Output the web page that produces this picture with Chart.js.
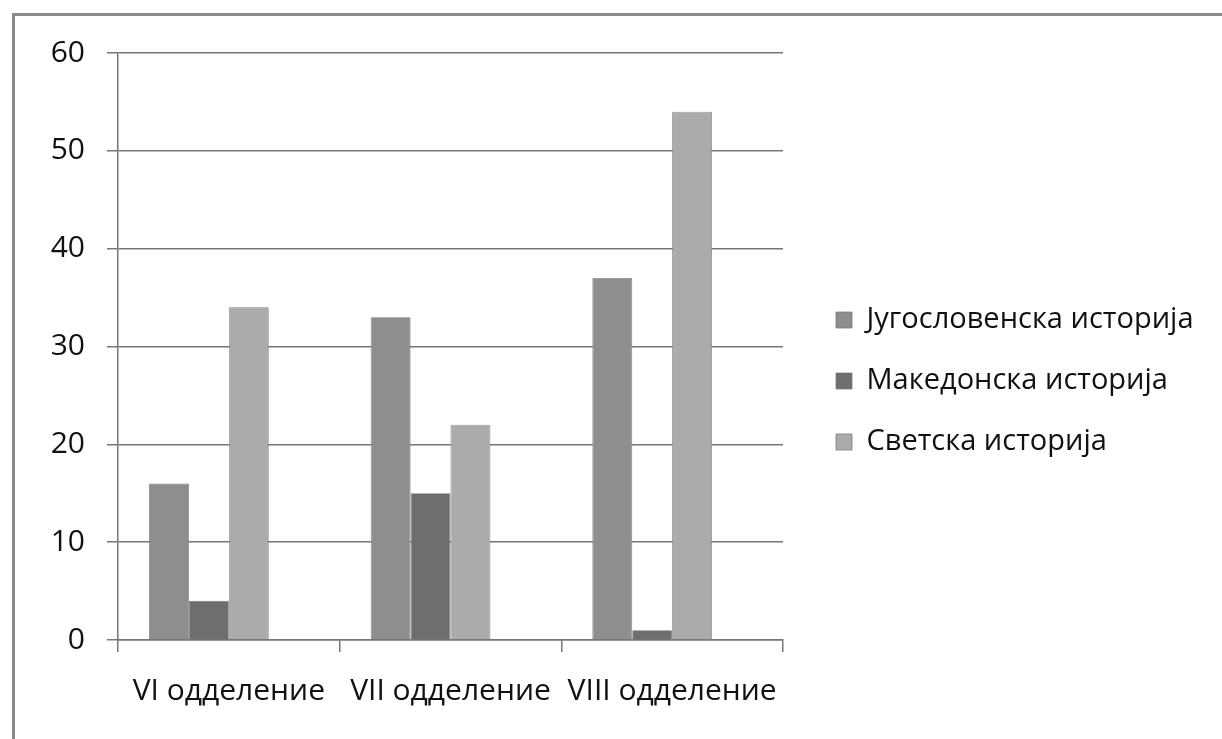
<!DOCTYPE html>
<html>
<head>
<meta charset="utf-8">
<script src="https://cdn.jsdelivr.net/npm/chart.js@4.4.1/dist/chart.umd.min.js"></script>
<style>
  html,body{margin:0;padding:0;background:#fff;width:1222px;height:739px;overflow:hidden;}
  .frame{position:absolute;left:12px;top:13px;width:1300px;height:800px;border-left:3px solid #8a8a8a;border-top:3px solid #8a8a8a;}
  #wrap{position:absolute;left:0;top:0;width:1222px;height:739px;}
</style>
</head>
<body>
<div class="frame"></div>
<div id="wrap"><canvas id="c"></canvas></div>
<script>
/* grades and series */
const CATEGORIES = ["VI одделение","VII одделение","VIII одделение"];
const SERIES_NAMES = ["Југословенска историја","Македонска историја","Светска историја"];
const YUGO = [16, 33, 37];
const MACED = [4, 15, 1];
const WORLD = [34, 22, 54];
const Y_TICKS = [0, 10, 20, 30, 40, 50, 60];

const FONT = "'Open Sans', sans-serif";
const FS = 30;       // axis labels
const FS_LEG = 29;   // legend
const INK = "#111";
const GRID = "#767676";
const COLORS = ["#8e8e8e", "#6e6e6e", "#ababab"];

// chart area target: x 118..783, y 53..640
const LEG_PAD = 32, LEG_BOX = 16, GAP = 21;
const m = document.createElement("canvas").getContext("2d");
m.font = FS_LEG + "px " + FONT;
const maxText = Math.max(...SERIES_NAMES.map(t => m.measureText(t).width));
const legendW = LEG_PAD + LEG_BOX + FS_LEG/2 + maxText + 10;
const padRight = Math.max(0, 1222 - 783 - GAP - legendW);

const sets = SERIES_NAMES.map((name, i) => ({
  label: name,
  data: [YUGO, MACED, WORLD][i],
  backgroundColor: COLORS[i],
  borderColor: "#7c7c7c",
  borderWidth: 0.8,
  barPercentage: 1,
  categoryPercentage: 0.72
}));
// empty 4th slot: the original groups sit left of the category centre
sets.push({ label: "", data: [null, null, null], backgroundColor: "transparent", barPercentage: 1, categoryPercentage: 0.72 });

new Chart(document.getElementById("c"), {
  type: "bar",
  data: { labels: CATEGORIES, datasets: sets },
  options: {
    responsive: true, maintainAspectRatio: false, animation: false,
    layout: { padding: { top: 53, bottom: 30, left: 0, right: padRight } },
    plugins: {
      tooltip: { enabled: false },
      legend: {
        position: "right",
        maxWidth: 600,
        labels: {
          filter: it => it.datasetIndex < 3,
          boxWidth: LEG_BOX, boxHeight: LEG_BOX, padding: LEG_PAD,
          color: INK, font: { family: FONT, size: FS_LEG }
        }
      }
    },
    scales: {
      x: {
        offset: true,
        grid: { drawOnChartArea: false, drawTicks: true, tickLength: 12, color: GRID, lineWidth: 1.5, offset: true },
        border: { display: true, color: GRID, width: 1.5 },
        ticks: { color: INK, font: { family: FONT, size: FS }, padding: 21, maxRotation: 0 },
        afterFit: s => { s.height = 69; }
      },
      y: {
        min: 0, max: 60,
        afterBuildTicks: s => { s.ticks = Y_TICKS.map(v => ({ value: v })); },
        grid: { color: GRID, lineWidth: 1.5, tickLength: 11 },
        border: { display: true, color: GRID, width: 1.5 },
        ticks: { color: INK, font: { family: FONT, size: FS }, padding: 22 },
        afterFit: s => { s.width = 118; }
      },
      gap: {
        position: "right", display: true,
        grid: { display: false }, border: { display: false }, ticks: { display: false },
        afterFit: s => { s.width = GAP; }
      }
    }
  }
});
</script>
</body>
</html>
